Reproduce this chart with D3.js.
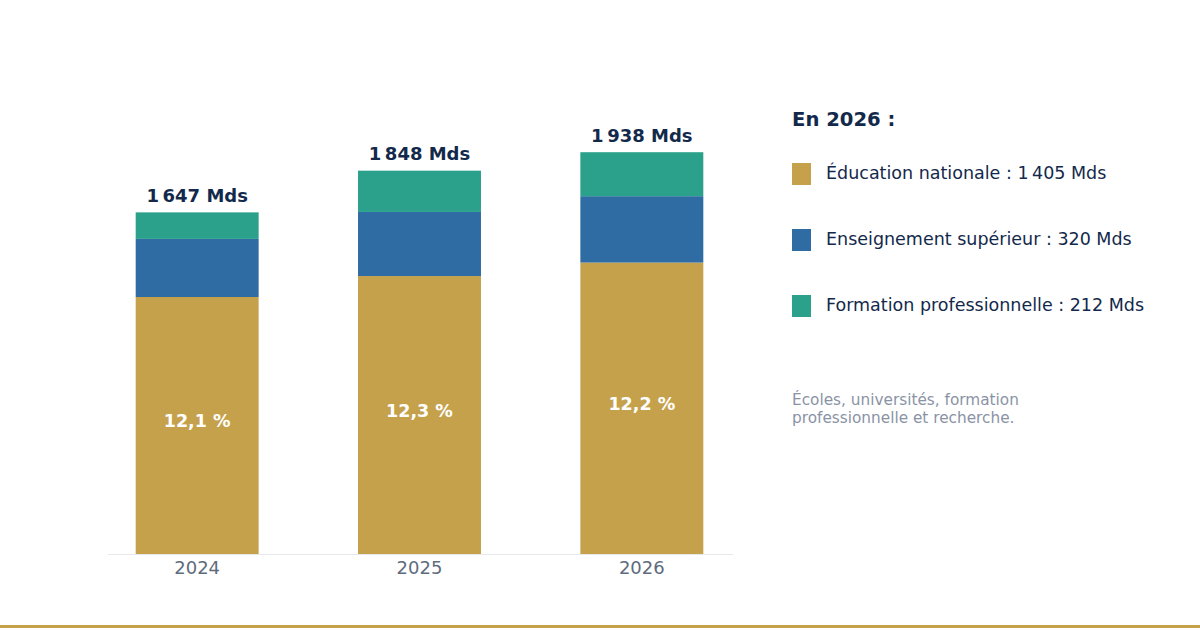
<!DOCTYPE html>
<html><head><meta charset="utf-8">
<script src="https://cdn.jsdelivr.net/npm/d3@7"></script>
<style>
body{margin:0;background:#fff;}
svg{display:block;font-family:"DejaVu Sans",sans-serif;}
</style></head><body>
<svg id="c" width="1200" height="630"></svg>
<script>
const years = ["2024","2025","2026"];
const education = [1239, 1340, 1405];
const superieur = [280, 309, 320];
const formation = [128, 199, 212];
const totals = ["1\u202f647 Mds","1\u202f848 Mds","1\u202f938 Mds"];
const shares = ["12,1 %","12,3 %","12,2 %"];
const seriesNames = ["Éducation nationale : 1\u202f405 Mds","Enseignement supérieur : 320 Mds","Formation professionnelle : 212 Mds"];
const colors = ["#C5A14C","#2E6CA3","#2BA18B"];

const svg = d3.select("#c");
const x = d3.scaleBand().domain(years).range([86,753]).paddingInner(0.447).paddingOuter(0.2235);
const y = d3.scaleLinear().domain([0,1938]).range([554,152]);

const rows = years.map((yr,i)=>({year:yr,education:education[i],superieur:superieur[i],formation:formation[i]}));
const stack = d3.stack().keys(["education","superieur","formation"])(rows);

svg.append("line").attr("x1",108).attr("x2",733).attr("y1",554.5).attr("y2",554.5)
  .attr("stroke","#e6e8ec").attr("stroke-width",1);

svg.selectAll("g.s").data(stack).join("g").attr("fill",(d,i)=>colors[i])
  .selectAll("rect").data(d=>d).join("rect")
  .attr("x",d=>x(d.data.year)).attr("width",x.bandwidth())
  .attr("y",d=>y(d[1])).attr("height",d=>y(d[0])-y(d[1]));

// totals
svg.selectAll("text.tot").data(years).join("text")
  .attr("x",d=>x(d)+x.bandwidth()/2).attr("y",(d,i)=>y(education[i]+superieur[i]+formation[i])-10.5)
  .attr("text-anchor","middle").attr("font-weight","bold").attr("font-size",18).attr("fill","#13294B")
  .text((d,i)=>totals[i]);

// shares
svg.selectAll("text.sh").data(years).join("text")
  .attr("x",d=>x(d)+x.bandwidth()/2).attr("y",(d,i)=>(y(0)+y(education[i]))/2+1.5)
  .attr("text-anchor","middle").attr("font-weight","bold").attr("font-size",17.5).attr("fill","#fff")
  .text((d,i)=>shares[i]);

// x axis labels
svg.selectAll("text.xl").data(years).join("text")
  .attr("x",d=>x(d)+x.bandwidth()/2).attr("y",573.5)
  .attr("text-anchor","middle").attr("font-size",18).attr("fill","#5E6B7D")
  .text(d=>d);

// legend
svg.append("text").attr("x",792).attr("y",126).attr("font-weight","bold").attr("font-size",19.6)
  .attr("fill","#13294B").text("En 2026 :");
const lg = svg.selectAll("g.lg").data(seriesNames).join("g")
  .attr("transform",(d,i)=>`translate(792,${163+i*66})`);
lg.append("rect").attr("width",19).attr("height",22).attr("fill",(d,i)=>colors[i]);
lg.append("text").attr("x",34).attr("y",16).attr("font-size",17.5).attr("fill","#13294B").text(d=>d);

svg.append("text").attr("x",792).attr("y",405).attr("font-size",15.3).attr("fill","#8A93A5")
  .text("Écoles, universités, formation");
svg.append("text").attr("x",792).attr("y",422.5).attr("font-size",15.3).attr("fill","#8A93A5")
  .text("professionnelle et recherche.");

svg.append("rect").attr("x",0).attr("y",625).attr("width",1200).attr("height",3).attr("fill","#C5A14C");
</script>
</body></html>
